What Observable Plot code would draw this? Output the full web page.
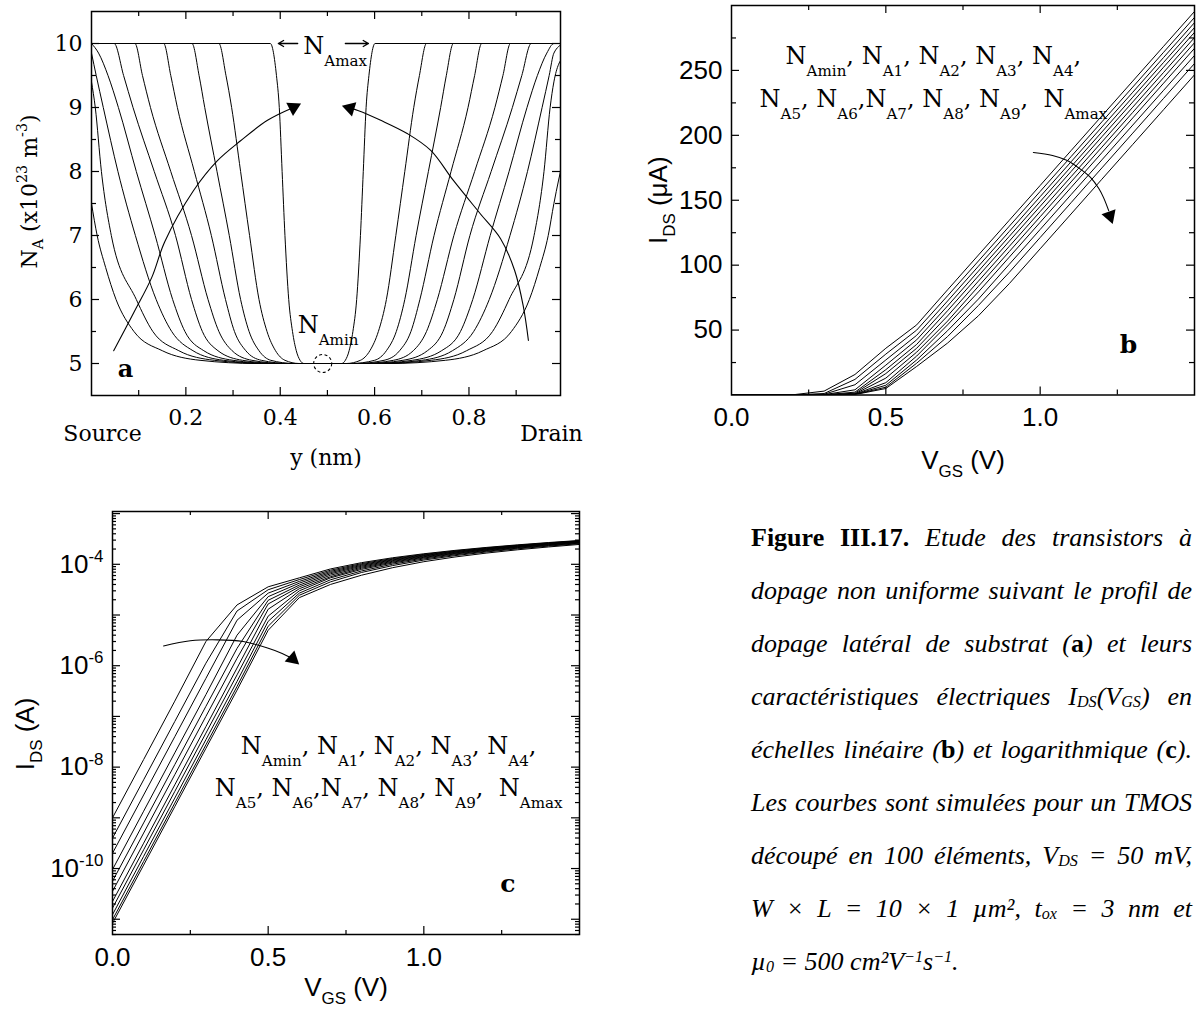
<!DOCTYPE html>
<html><head><meta charset="utf-8">
<script src="https://cdn.jsdelivr.net/npm/d3@7"></script>
<script src="https://cdn.jsdelivr.net/npm/@observablehq/plot@0.6"></script>
<style>
html,body{margin:0;background:#fff;}
#root{position:relative;width:1196px;height:1013px;overflow:hidden;background:#fff;}
.panel{position:absolute;}
.panel svg{max-width:none;background:transparent;overflow:visible;}
#cap{position:absolute;left:751px;top:511px;width:441px;font-family:'Liberation Serif',serif;font-size:26px;line-height:53px;color:#000;font-style:italic;}
#cap div{text-align:justify;text-align-last:justify;}
#cap div.last{text-align:left;text-align-last:left;}
#cap b{font-style:normal;font-weight:bold;}
#cap sub{font-size:0.62em;line-height:0;vertical-align:-0.12em;}
#cap sup{font-size:0.62em;line-height:0;vertical-align:0.5em;}
</style>
</head><body>
<div id="root">
  <div class="panel" id="pa" style="left:0;top:0"></div>
  <div class="panel" id="pb" style="left:600px;top:0"></div>
  <div class="panel" id="pc" style="left:0;top:470px"></div>
  <div id="cap">
    <div><b>Figure III.17.</b> Etude des transistors à</div>
    <div>dopage non uniforme suivant le profil de</div>
    <div>dopage latéral de substrat (<b>a</b>) et leurs</div>
    <div>caractéristiques électriques I<sub>DS</sub>(V<sub>GS</sub>) en</div>
    <div>échelles linéaire (<b>b</b>) et logarithmique (<b>c</b>).</div>
    <div>Les courbes sont simulées pour un TMOS</div>
    <div>découpé en 100 éléments, V<sub>DS</sub> = 50 mV,</div>
    <div>W × L = 10 × 1 µm², t<sub>ox</sub> = 3 nm et</div>
    <div class="last">µ<sub>0</sub> = 500 cm²V<sup>−1</sup>s<sup>−1</sup>.</div>
  </div>
</div>
<script>
// ---------------- Panel (a): lateral doping profiles, [y (nm), NA (x1e23 m^-3)] ----------------
const naCurve1 = [[0,7.5],[0.012,7.0],[0.03,6.5],[0.052,6.0],[0.09,5.5],[0.15,5.2],[0.23,5.05],[0.35,5.0],[0.63,5.0],[0.75,5.05],[0.83,5.2],[0.89,5.5],[0.928,6.0],[0.95,6.5],[0.968,7.0],[0.98,7.5],[1.0,8.2]];
const naCurve2 = [[0,9.4],[0.008,9.0],[0.021,8.0],[0.042,7.0],[0.095,6.0],[0.13,5.5],[0.185,5.2],[0.26,5.05],[0.37,5.0],[0.61,5.0],[0.72,5.05],[0.795,5.2],[0.85,5.5],[0.885,6.0],[0.938,7.0],[0.959,8.0],[0.972,9.0],[0.98,9.4],[1.0,9.8]];
const naCurve3 = [[0,9.85],[0.01,9.5],[0.025,9.0],[0.056,8.0],[0.093,7.0],[0.137,6.0],[0.17,5.5],[0.215,5.2],[0.28,5.05],[0.38,5.0],[0.6,5.0],[0.7,5.05],[0.765,5.2],[0.81,5.5],[0.843,6.0],[0.887,7.0],[0.924,8.0],[0.955,9.0],[0.97,9.5],[0.98,9.85],[1.0,10]];
const naCurve4 = [[0,10],[0.015,9.85],[0.035,9.5],[0.057,9.0],[0.095,8.0],[0.135,7.0],[0.172,6.0],[0.198,5.5],[0.238,5.2],[0.30,5.05],[0.39,5.0],[0.59,5.0],[0.68,5.05],[0.742,5.2],[0.782,5.5],[0.808,6.0],[0.845,7.0],[0.885,8.0],[0.923,9.0],[0.945,9.5],[0.965,9.85],[0.98,10],[1.0,10]];
const naCurve5 = [[0,10],[0.048,10],[0.068,9.5],[0.088,9.0],[0.133,8.0],[0.178,7.0],[0.212,6.0],[0.235,5.5],[0.268,5.2],[0.32,5.05],[0.40,5.0],[0.58,5.0],[0.66,5.05],[0.712,5.2],[0.745,5.5],[0.768,6.0],[0.802,7.0],[0.847,8.0],[0.892,9.0],[0.912,9.5],[0.932,10],[1.0,10]];
const naCurve6 = [[0,10],[0.092,10],[0.108,9.5],[0.125,9.0],[0.168,8.0],[0.212,7.0],[0.247,6.0],[0.27,5.5],[0.298,5.2],[0.34,5.05],[0.41,5.0],[0.57,5.0],[0.64,5.05],[0.682,5.2],[0.71,5.5],[0.733,6.0],[0.768,7.0],[0.812,8.0],[0.855,9.0],[0.872,9.5],[0.888,10],[1.0,10]];
const naCurve7 = [[0,10],[0.153,10],[0.168,9.5],[0.182,9.0],[0.218,8.0],[0.254,7.0],[0.284,6.0],[0.303,5.5],[0.327,5.2],[0.36,5.05],[0.42,5.0],[0.56,5.0],[0.62,5.05],[0.653,5.2],[0.677,5.5],[0.696,6.0],[0.726,7.0],[0.762,8.0],[0.798,9.0],[0.812,9.5],[0.827,10],[1.0,10]];
const naCurve8 = [[0,10],[0.213,10],[0.228,9.5],[0.24,9.0],[0.266,8.0],[0.292,7.0],[0.316,6.0],[0.334,5.5],[0.355,5.2],[0.38,5.05],[0.43,5.0],[0.55,5.0],[0.60,5.05],[0.625,5.2],[0.646,5.5],[0.664,6.0],[0.688,7.0],[0.714,8.0],[0.74,9.0],[0.752,9.5],[0.767,10],[1.0,10]];
const naCurve9 = [[0,10],[0.270,10],[0.285,9.5],[0.297,9.0],[0.316,8.0],[0.335,7.0],[0.355,6.0],[0.372,5.5],[0.39,5.2],[0.41,5.05],[0.44,5.0],[0.54,5.0],[0.57,5.05],[0.59,5.2],[0.608,5.5],[0.625,6.0],[0.645,7.0],[0.664,8.0],[0.683,9.0],[0.695,9.5],[0.71,10],[1.0,10]];
const naCurve10 = [[0,10],[0.379,10],[0.392,9.5],[0.398,9.0],[0.404,8.0],[0.410,7.0],[0.418,6.0],[0.426,5.5],[0.434,5.2],[0.442,5.05],[0.45,5.0],[0.53,5.0],[0.538,5.05],[0.546,5.2],[0.554,5.5],[0.562,6.0],[0.57,7.0],[0.576,8.0],[0.582,9.0],[0.588,9.5],[0.601,10],[1.0,10]];
const naProfiles = [naCurve1, naCurve2, naCurve3, naCurve4, naCurve5, naCurve6, naCurve7, naCurve8, naCurve9, naCurve10];

// curved arrows of panel (a): path points and arrow heads [x, y, angle]
const arrowLeftA = [[0.047,5.2],[0.09,5.8],[0.128,6.35],[0.155,6.9],[0.216,7.7],[0.267,8.17],[0.316,8.48],[0.373,8.8],[0.428,9.0]];
const arrowRightA = [[0.926,5.36],[0.915,5.9],[0.897,6.45],[0.867,6.95],[0.824,7.34],[0.767,7.86],[0.719,8.33],[0.67,8.59],[0.613,8.8],[0.566,8.95],[0.548,8.99]];
const arrowHeadsA = [[0.428,9.0,63],[0.548,8.99,-73]];

const aXLabels = [0.2, 0.4, 0.6, 0.8];
const aXMajor = [0.2, 0.4, 0.6, 0.8];
const aXMinor = [0.1, 0.3, 0.5, 0.7, 0.9];
const aYLabels = [5, 6, 7, 8, 9, 10];
const aYMinor = [5.5, 6.5, 7.5, 8.5, 9.5];

// ---------------- Panels (b) and (c): IDS (A) versus VGS (V) ----------------
const vgs = [0, 0.1, 0.2, 0.3, 0.4, 0.5, 0.6, 0.7, 0.8, 0.9, 1.0, 1.1, 1.2, 1.3, 1.4, 1.5];
const idsAmin = [1.0e-9, 1.41e-8, 2.0e-7, 3.0e-6, 1.58e-5, 3.6e-5, 5.4e-5, 8.1e-5, 1.078e-4, 1.346e-4, 1.614e-4, 1.882e-4, 2.15e-4, 2.418e-4, 2.686e-4, 2.954e-4];
const idsA1 = [3.98e-10, 5.62e-9, 7.94e-8, 1.12e-6, 1.2e-5, 3.15e-5, 5.0e-5, 7.64e-5, 1.032e-4, 1.30e-4, 1.568e-4, 1.836e-4, 2.104e-4, 2.372e-4, 2.64e-4, 2.908e-4];
const idsA2 = [2.0e-10, 2.82e-9, 3.98e-8, 5.62e-7, 7.9e-6, 2.7e-5, 4.6e-5, 7.24e-5, 9.92e-5, 1.26e-4, 1.528e-4, 1.796e-4, 2.064e-4, 2.332e-4, 2.6e-4, 2.868e-4];
const idsA3 = [9.55e-11, 1.35e-9, 1.91e-8, 2.69e-7, 4.0e-6, 2.3e-5, 4.25e-5, 6.86e-5, 9.54e-5, 1.222e-4, 1.49e-4, 1.758e-4, 2.026e-4, 2.294e-4, 2.562e-4, 2.83e-4];
const idsA4 = [5.62e-11, 7.94e-10, 1.12e-8, 1.58e-7, 2.2e-6, 1.95e-5, 3.9e-5, 6.49e-5, 9.17e-5, 1.185e-4, 1.453e-4, 1.721e-4, 1.989e-4, 2.257e-4, 2.525e-4, 2.793e-4];
const idsA5 = [3.55e-11, 5.01e-10, 7.08e-9, 1.0e-7, 1.4e-6, 1.65e-5, 3.6e-5, 6.09e-5, 8.77e-5, 1.145e-4, 1.413e-4, 1.681e-4, 1.949e-4, 2.217e-4, 2.485e-4, 2.753e-4];
const idsA6 = [2.24e-11, 3.16e-10, 4.47e-9, 6.31e-8, 9.0e-7, 1.3e-5, 3.3e-5, 5.69e-5, 8.37e-5, 1.105e-4, 1.373e-4, 1.641e-4, 1.909e-4, 2.177e-4, 2.445e-4, 2.713e-4];
const idsA7 = [1.66e-11, 2.34e-10, 3.31e-9, 4.68e-8, 6.6e-7, 9.5e-6, 3.0e-5, 5.4e-5, 7.94e-5, 1.062e-4, 1.33e-4, 1.598e-4, 1.866e-4, 2.134e-4, 2.402e-4, 2.67e-4];
const idsA8 = [1.23e-11, 1.74e-10, 2.45e-9, 3.47e-8, 4.9e-7, 7.5e-6, 2.7e-5, 4.95e-5, 7.39e-5, 1.007e-4, 1.275e-4, 1.543e-4, 1.811e-4, 2.079e-4, 2.347e-4, 2.615e-4];
const idsA9 = [9.77e-12, 1.38e-10, 1.95e-9, 2.75e-8, 3.9e-7, 6.0e-6, 2.45e-5, 4.5e-5, 6.9e-5, 9.45e-5, 1.213e-4, 1.481e-4, 1.749e-4, 2.017e-4, 2.285e-4, 2.553e-4];
const idsAmax = [8.32e-12, 1.17e-10, 1.66e-9, 2.34e-8, 3.3e-7, 5.0e-6, 2.2e-5, 4.0e-5, 6.1e-5, 8.58e-5, 1.126e-4, 1.394e-4, 1.662e-4, 1.93e-4, 2.198e-4, 2.466e-4];
const seriesNames = ["NAmin","NA1","NA2","NA3","NA4","NA5","NA6","NA7","NA8","NA9","NAmax"];
const idsSeries = [idsAmin, idsA1, idsA2, idsA3, idsA4, idsA5, idsA6, idsA7, idsA8, idsA9, idsAmax];

const arrowB = [[0.978,186.8],[1.04,184.5],[1.088,180.6],[1.13,174],[1.163,167.6],[1.19,159],[1.205,152.2],[1.222,142]];
const arrowHeadB = [[1.226,138,161]];
const arrowC = [[0.164,2.45e-6],[0.25,3.1e-6],[0.338,3.24e-6],[0.42,3.0e-6],[0.498,2.24e-6],[0.545,1.75e-6],[0.575,1.42e-6]];
const arrowHeadC = [[0.579,1.37e-6,131]];

const bXLabels = [0, 0.5, 1.0];
const bXMajor = [0.5, 1.0];
const bXMinor = [0.25, 0.75, 1.25];
const bYLabels = [50, 100, 150, 200, 250];
const bYMinor = [25, 75, 125, 175, 225, 275];
const cYLabels = [1e-4, 1e-6, 1e-8, 1e-10];

const legendText = "N__{Amin}, N__{A1}, N__{A2}, N__{A3}, N__{A4},\nN__{A5}, N__{A6},N__{A7}, N__{A8}, N__{A9},  N__{Amax}";

// ---------------- helpers ----------------
const SERIF = "'DejaVu Serif', 'Liberation Serif', serif";
const SANS = "'Liberation Sans', Arial, Helvetica, sans-serif";
const K = {stroke: "black", strokeWidth: 1.2};

function frameTicks(xs, ys, len, W, H) {
  return [
    Plot.tickX(xs, {x: d => d, insetTop: H - len, ...K}),
    Plot.tickX(xs, {x: d => d, insetBottom: H - len, ...K}),
    Plot.tickY(ys, {y: d => d, insetRight: W - len, ...K}),
    Plot.tickY(ys, {y: d => d, insetLeft: W - len, ...K})
  ];
}

function richify(root) {
  const NS = "http://www.w3.org/2000/svg";
  const leaves = [...root.querySelectorAll("text, tspan")].filter(el => el.children.length === 0 && /(__|_|\^)\{/.test(el.textContent));
  for (const el of leaves) {
    const s = el.textContent;
    el.textContent = "";
    const re = /(__|_|\^)\{([^}]*)\}/g;
    let last = 0, m, shift = 0;
    const add = (txt, kind) => {
      const t = document.createElementNS(NS, "tspan");
      t.textContent = txt;
      if (kind) {
        const sc = kind === "__" ? 0.63 : 0.65;
        const off = kind === "__" ? 0.5 : kind === "_" ? 0.3 : -0.42;
        t.style.fontSize = sc + "em";
        t.setAttribute("dy", ((off - shift) / sc).toFixed(3) + "em");
        shift = off;
      } else if (shift) {
        t.setAttribute("dy", (-shift).toFixed(3) + "em");
        shift = 0;
      }
      el.appendChild(t);
    };
    while ((m = re.exec(s))) {
      if (m.index > last) add(s.slice(last, m.index));
      add(m[2], m[1]);
      last = re.lastIndex;
    }
    if (last < s.length) add(s.slice(last));
  }
}

// ---------------- Panel (a) ----------------
const profileRows = naProfiles.flatMap((c, k) => c.map(([y, n]) => ({curve: k, y, n})));
const WA = 560 - 91, HA = 395 - 11;
const plotA = Plot.plot({
  width: 600, height: 475,
  marginLeft: 91, marginRight: 40, marginTop: 11, marginBottom: 80,
  style: {fontFamily: SERIF, fontSize: "22px", color: "black", background: "transparent", overflow: "visible"},
  x: {domain: [0, 0.994]},
  y: {domain: [4.5, 10.5]},
  marks: [
    Plot.line(profileRows, {x: "y", y: "n", z: "curve", curve: "monotone-x", stroke: "black", strokeWidth: 1, clip: true}),
    Plot.line(arrowLeftA, {x: d => d[0], y: d => d[1], curve: "catmull-rom", stroke: "black", strokeWidth: 1.1}),
    Plot.line(arrowRightA, {x: d => d[0], y: d => d[1], curve: "catmull-rom", stroke: "black", strokeWidth: 1.1}),
    Plot.dot(arrowHeadsA, {x: d => d[0], y: d => d[1], rotate: d => d[2], symbol: "triangle", r: 5.5, fill: "black", stroke: "none"}),
    Plot.dot([[0.49, 5]], {x: d => d[0], y: d => d[1], r: 9, stroke: "black", strokeWidth: 1.1, strokeDasharray: "3,2.5", fill: "none"}),
    Plot.arrow([[0.437, 0.396]], {x1: d => d[0], x2: d => d[1], y1: () => 10, y2: () => 10, headLength: 7, stroke: "black", strokeWidth: 1.3}),
    Plot.arrow([[0.538, 0.587]], {x1: d => d[0], x2: d => d[1], y1: () => 10, y2: () => 10, headLength: 7, stroke: "black", strokeWidth: 1.3}),
    Plot.text(["N__{Amax}"], {x: () => 0.449, y: () => 9.84, text: d => d, textAnchor: "start", lineAnchor: "bottom", fontSize: 24, fill: "black"}),
    Plot.text(["N__{Amin}"], {x: () => 0.437, y: () => 5.47, text: d => d, textAnchor: "start", lineAnchor: "bottom", fontSize: 24, fill: "black"}),
    Plot.text(["a"], {frameAnchor: "bottom-left", text: d => d, dx: 34, dy: -19, textAnchor: "middle", lineAnchor: "bottom", fontSize: 24, fontWeight: "bold", fill: "black"}),
    Plot.frame({stroke: "black", strokeWidth: 1.5}),
    ...frameTicks(aXMajor, aYLabels, 8, WA, HA),
    ...frameTicks(aXMinor, aYMinor, 5, WA, HA),
    Plot.axisX(aXLabels, {tickSize: 0, tickPadding: 14, tickFormat: d => d.toFixed(1), label: null}),
    Plot.axisY(aYLabels, {tickSize: 0, tickPadding: 9, tickFormat: d => String(d), label: null}),
    Plot.text(["Source"], {frameAnchor: "bottom-left", text: d => d, dx: 11, dy: 38, textAnchor: "middle", lineAnchor: "middle", fill: "black"}),
    Plot.text(["Drain"], {frameAnchor: "bottom-right", text: d => d, dx: -9, dy: 38, textAnchor: "middle", lineAnchor: "middle", fill: "black"}),
    Plot.text(["y (nm)"], {frameAnchor: "bottom", text: d => d, dy: 62, textAnchor: "middle", lineAnchor: "middle", fill: "black"}),
    Plot.text(["N_{A} (x10^{23} m^{-3})"], {frameAnchor: "left", text: d => d, rotate: -90, dx: -62, dy: -12, textAnchor: "middle", lineAnchor: "middle", fill: "black"})
  ]
});

// ---------------- Panel (b) ----------------
const idsRows = idsSeries.flatMap((s, k) => s.map((i, j) => ({curve: seriesNames[k], v: vgs[j], i})));
const WB = 1194 - 731, HB = 394.5 - 5;
const plotB = Plot.plot({
  width: 596, height: 480,
  marginLeft: 131, marginRight: 2, marginTop: 5, marginBottom: 85.5,
  style: {fontFamily: SANS, fontSize: "26px", color: "black", background: "transparent", overflow: "visible"},
  x: {domain: [0, 1.5]},
  y: {domain: [0, 300]},
  marks: [
    Plot.line(idsRows, {x: "v", y: d => d.i * 1e6, z: "curve", stroke: "black", strokeWidth: 1, clip: true}),
    Plot.line(arrowB, {x: d => d[0], y: d => d[1], curve: "catmull-rom", stroke: "black", strokeWidth: 1.1}),
    Plot.dot(arrowHeadB, {x: d => d[0], y: d => d[1], rotate: d => d[2], symbol: "triangle", r: 5.5, fill: "black", stroke: "none"}),
    Plot.text([legendText], {x: () => 0.654, y: () => 278.5, text: d => d, textAnchor: "middle", lineAnchor: "top", lineHeight: 1.8, fontFamily: SERIF, fontSize: 24, fill: "black"}),
    Plot.text(["b"], {x: () => 1.286, y: () => 32, text: d => d, textAnchor: "middle", lineAnchor: "bottom", fontFamily: SERIF, fontSize: 25, fontWeight: "bold", fill: "black"}),
    Plot.frame({stroke: "black", strokeWidth: 1.5}),
    ...frameTicks(bXMajor, bYLabels, 8, WB, HB),
    ...frameTicks(bXMinor, bYMinor, 5, WB, HB),
    Plot.axisX(bXLabels, {tickSize: 0, tickPadding: 13, tickFormat: d => d.toFixed(1), label: null}),
    Plot.axisY(bYLabels, {tickSize: 0, tickPadding: 9, tickFormat: d => String(d), label: null}),
    Plot.text(["V_{GS} (V)"], {frameAnchor: "bottom", text: d => d, dy: 66, textAnchor: "middle", lineAnchor: "middle", fill: "black"}),
    Plot.text(["I_{DS} (μA)"], {frameAnchor: "left", text: d => d, rotate: -90, dx: -73, textAnchor: "middle", lineAnchor: "middle", fill: "black"})
  ]
});

// ---------------- Panel (c) ----------------
const yDomC = [5e-12, 1.1e-3];
const logTicks = d3.scaleLog().domain(yDomC).ticks(20);
const cYMajor = logTicks.filter(t => Math.abs(Math.log10(t) - Math.round(Math.log10(t))) < 1e-9);
const cYMinor = logTicks.filter(t => !cYMajor.includes(t));
const WC = 579 - 112, HC = 934 - 511;
const plotC = Plot.plot({
  width: 600, height: 543,
  marginLeft: 112, marginRight: 21, marginTop: 41, marginBottom: 79,
  style: {fontFamily: SANS, fontSize: "26px", color: "black", background: "transparent", overflow: "visible"},
  x: {domain: [0, 1.5]},
  y: {type: "log", domain: yDomC},
  marks: [
    Plot.line(idsRows, {x: "v", y: "i", z: "curve", stroke: "black", strokeWidth: 1, clip: true}),
    Plot.line(arrowC, {x: d => d[0], y: d => d[1], curve: "catmull-rom", stroke: "black", strokeWidth: 1.1}),
    Plot.dot(arrowHeadC, {x: d => d[0], y: d => d[1], rotate: d => d[2], symbol: "triangle", r: 5.5, fill: "black", stroke: "none"}),
    Plot.text([legendText], {x: () => 0.887, y: () => 7.1e-8, text: d => d, textAnchor: "middle", lineAnchor: "top", lineHeight: 1.75, fontFamily: SERIF, fontSize: 24, fill: "black"}),
    Plot.text(["c"], {x: () => 1.27, y: () => 3.5e-11, text: d => d, textAnchor: "middle", lineAnchor: "bottom", fontFamily: SERIF, fontSize: 25, fontWeight: "bold", fill: "black"}),
    Plot.frame({stroke: "black", strokeWidth: 1.5}),
    ...frameTicks(bXMajor, cYMajor, 8, WC, HC),
    ...frameTicks(bXMinor, cYMinor, 4, WC, HC),
    Plot.axisX(bXLabels, {tickSize: 0, tickPadding: 13, tickFormat: d => d.toFixed(1), label: null}),
    Plot.axisY(cYLabels, {tickSize: 0, tickPadding: 9, tickFormat: d => `10^{${Math.round(Math.log10(d))}}`, label: null}),
    Plot.text(["V_{GS} (V)"], {frameAnchor: "bottom", text: d => d, dy: 53, textAnchor: "middle", lineAnchor: "middle", fill: "black"}),
    Plot.text(["I_{DS} (A)"], {frameAnchor: "left", text: d => d, rotate: -90, dx: -87, dy: 11, textAnchor: "middle", lineAnchor: "middle", fill: "black"})
  ]
});

document.getElementById("pa").appendChild(plotA);
document.getElementById("pb").appendChild(plotB);
document.getElementById("pc").appendChild(plotC);
[plotA, plotB, plotC].forEach(richify);
</script>
</body></html>
